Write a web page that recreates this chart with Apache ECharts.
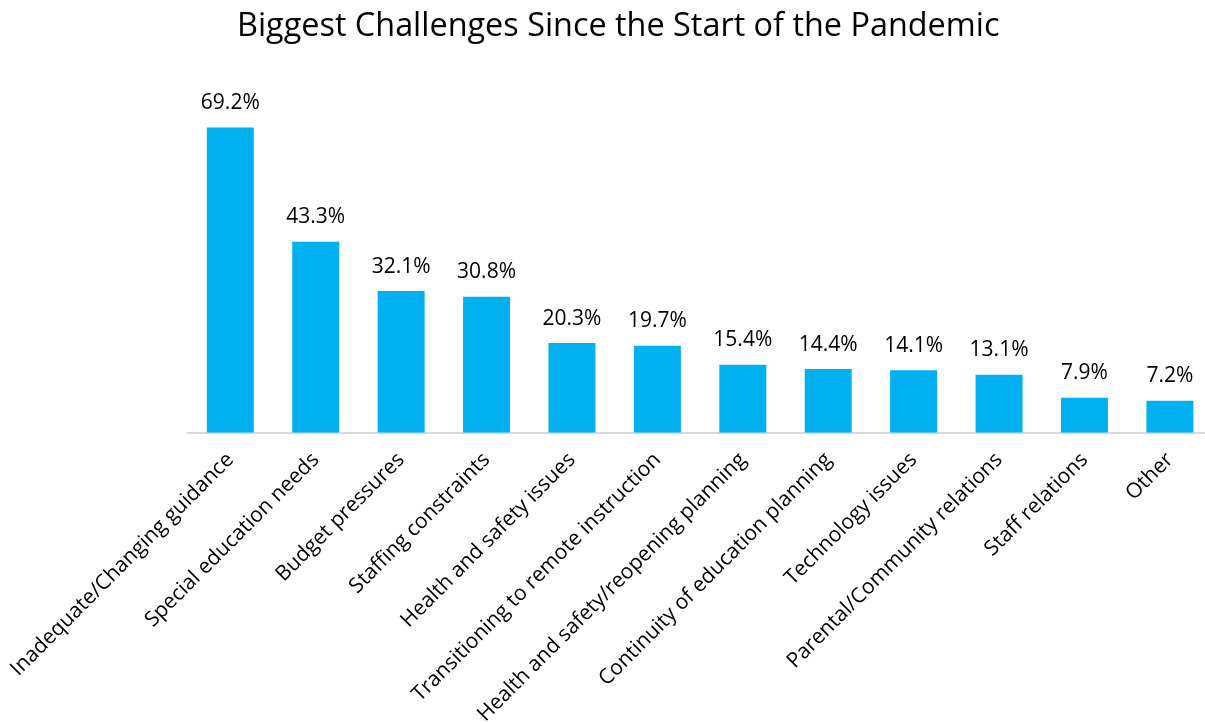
<!DOCTYPE html>
<html>
<head>
<meta charset="utf-8">
<script src="https://cdn.jsdelivr.net/npm/echarts@6/dist/echarts.min.js"></script>
<style>
  html, body { margin: 0; padding: 0; background: #ffffff; }
  #chart { width: 1205px; height: 723px; }
</style>
</head>
<body>
<div id="chart"></div>
<script>
// Survey responses: share of respondents naming each challenge (%)
const categories = [
  'Inadequate/Changing guidance',
  'Special education needs',
  'Budget pressures',
  'Staffing constraints',
  'Health and safety issues',
  'Transitioning to remote instruction',
  'Health and safety/reopening planning',
  'Continuity of education planning',
  'Technology issues',
  'Parental/Community relations',
  'Staff relations',
  'Other'
];
const shares = [69.2, 43.3, 32.1, 30.8, 20.3, 19.7, 15.4, 14.4, 14.1, 13.1, 7.9, 7.2];
const chartTitle = 'Biggest Challenges Since the Start of the Pandemic';

const FONT = '"Open Sans", "Noto Sans", sans-serif';

const chart = echarts.init(document.getElementById('chart'), null, { renderer: 'canvas' });
chart.setOption({
  animation: false,
  backgroundColor: '#ffffff',
  title: {
    text: chartTitle,
    left: 232,
    top: 6,
    textStyle: { fontFamily: FONT, fontSize: 32.4, fontWeight: 'normal', color: '#000000' }
  },
  // plot band runs slightly past the right edge of the canvas
  grid: {
    left: 187.6, width: 1025, top: 80, bottom: 290.5,
    containLabel: false, outerBoundsMode: 'none'
  },
  xAxis: {
    type: 'category',
    data: categories,
    axisLine: { show: true, lineStyle: { color: '#d9d9d9', width: 2 } },
    axisTick: { show: false },
    axisLabel: {
      interval: 0,
      rotate: 45,
      margin: 24,
      color: '#000000',
      fontFamily: FONT,
      fontSize: 21
    }
  },
  yAxis: {
    type: 'value',
    min: 0,
    max: 80,
    show: false,
    splitLine: { show: false }
  },
  series: [{
    type: 'bar',
    data: shares,
    barCategoryGap: '45%',
    itemStyle: { color: '#00b0f0' },
    label: {
      show: true,
      position: 'top',
      distance: 14,
      color: '#000000',
      fontFamily: FONT,
      fontSize: 21,
      formatter: p => p.value.toFixed(1) + '%'
    }
  }]
});
</script>
</body>
</html>
